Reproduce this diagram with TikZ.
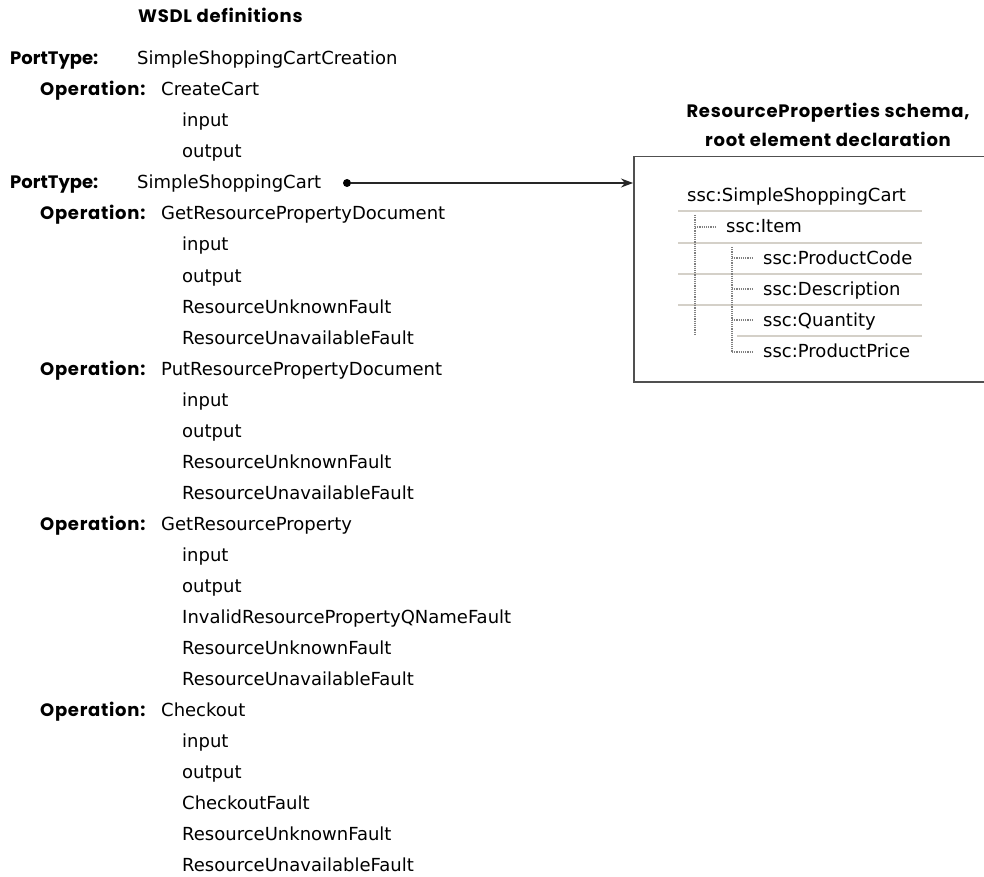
\documentclass[tikz,border=0pt]{standalone}
\usepackage{fontspec}
\setmainfont{DejaVu Sans}
\newfontfamily\headfont[LetterSpace=4]{Poppins}
\newfontfamily\headtightfont{Poppins}
\usetikzlibrary{arrows.meta}
\definecolor{boxline}{HTML}{505050}
\definecolor{sepline}{HTML}{D4D0C8}
\definecolor{treeline}{HTML}{808080}

\begin{document}
\begin{tikzpicture}[x=1pt,y=-1pt,
  txt/.style={anchor=west, inner sep=0pt, text height=12pt, text depth=0pt,
              font=\fontsize{18}{20}\selectfont},
  kw/.style={txt, font=\headfont\bfseries\fontsize{18}{20}\selectfont},
  ptkw/.style={txt, font=\headtightfont\bfseries\fontsize{18}{20}\selectfont},
  title/.style={kw, anchor=center},
  sep/.style={draw=sepline, line width=2pt},
  branch/.style={draw=treeline, line width=1.2pt, dash pattern=on 1.2pt off 1pt},
  link/.style={draw=black!85, line width=1.2pt, -{Stealth[length=12pt,width=9pt]}}]
\useasboundingbox (0,0) rectangle (984,877);
\clip (0,0) rectangle (984,877);
\fill[white] (0,0) rectangle (984,877);

% --- WSDL definitions (left column) ---
\node[kw] (wsdl) at (138,17) {WSDL definitions};

\node[ptkw] (ptA)     at (10,59)  {PortType:};
\node[txt]  (ptAname) at (137,59) {SimpleShoppingCartCreation};
\node[kw]   (opA)     at (40,90)  {Operation:};
\node[txt]  (opAname) at (161,90) {CreateCart};
\foreach \t [count=\k] in {input,output}
  \node[txt] (opAi\k) at (182,90+31*\k) {\t};

\node[ptkw] (ptB)     at (10,183)  {PortType:};
\node[txt]  (ptBname) at (137,183) {SimpleShoppingCart};

\node[kw]  (opB)     at (40,214)  {Operation:};
\node[txt] (opBname) at (161,214) {GetResourcePropertyDocument};
\foreach \t [count=\k] in {input,output,ResourceUnknownFault,ResourceUnavailableFault}
  \node[txt] (opBi\k) at (182,214+31*\k) {\t};

\node[kw]  (opC)     at (40,369)  {Operation:};
\node[txt] (opCname) at (161,369) {PutResourcePropertyDocument};
\foreach \t [count=\k] in {input,output,ResourceUnknownFault,ResourceUnavailableFault}
  \node[txt] (opCi\k) at (182,369+31*\k) {\t};

\node[kw]  (opD)     at (40,524)  {Operation:};
\node[txt] (opDname) at (161,524) {GetResourceProperty};
\foreach \t [count=\k] in {input,output,InvalidResourcePropertyQNameFault,ResourceUnknownFault,ResourceUnavailableFault}
  \node[txt] (opDi\k) at (182,524+31*\k) {\t};

\node[kw]  (opE)     at (40,710)  {Operation:};
\node[txt] (opEname) at (161,710) {Checkout};
\foreach \t [count=\k] in {input,output,CheckoutFault,ResourceUnknownFault,ResourceUnavailableFault}
  \node[txt] (opEi\k) at (182,710+31*\k) {\t};

% --- ResourceProperties schema (right) ---
\node[title] (rpt1) at (828,112) {ResourceProperties schema,};
\node[title] (rpt2) at (828,141) {root element declaration};

\node[draw=boxline, line width=1.5pt, inner sep=0pt, anchor=north west,
      minimum width=400pt, minimum height=225pt] (schema) at (633,156) {};

% tree rows separators
\foreach \yy in {211.5,242.5,273.5,305}
  \draw[sep] (678,\yy) -- (922,\yy);
\draw[sep] (737,336) -- (922,336);

% tree guide lines
\draw[branch] (695,215) -- (695,334);
\draw[branch] (695,227) -- (717,227);
\draw[branch] (732,247) -- (732,352);
\foreach \yy in {258,289,320,352}
  \draw[branch] (732,\yy) -- (753,\yy);

\node[txt] (t0) at (687,196) {ssc:SimpleShoppingCart};
\node[txt] (t1) at (726,227) {ssc:Item};
\node[txt] (t2) at (763,258) {ssc:ProductCode};
\node[txt] (t3) at (763,289) {ssc:Description};
\node[txt] (t4) at (763,320) {ssc:Quantity};
\node[txt] (t5) at (763,351) {ssc:ProductPrice};

% reference from the port type to its resource properties document
\node[circle, fill=black, inner sep=0pt, minimum size=8pt] (dot) at (347,183) {};
\draw[link] (dot) -- (dot -| schema.west);
\end{tikzpicture}
\end{document}
